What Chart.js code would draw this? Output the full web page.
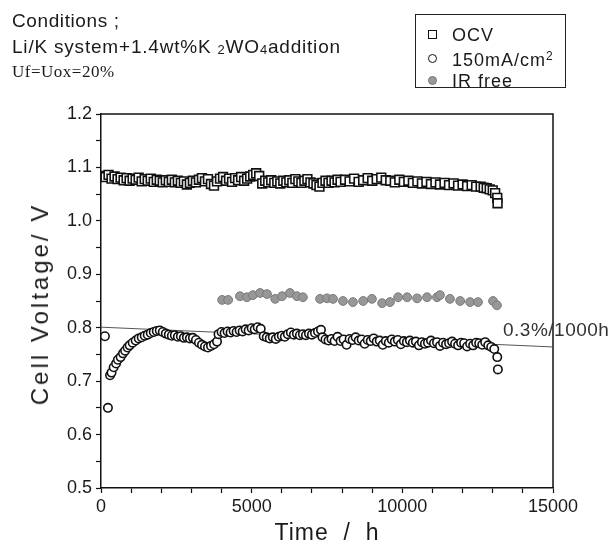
<!DOCTYPE html>
<html>
<head>
<meta charset="utf-8">
<script src="https://cdn.jsdelivr.net/npm/chart.js@4.4.1/dist/chart.umd.min.js"></script>
<style>
  body { margin: 0; background: #fff; }
  #wrap { position: relative; width: 613px; height: 547px; font-family: "Liberation Sans", Arial, sans-serif; color: #1a1a1a; }
  #chart { position: absolute; left: 0; top: 0; }
  .txt { position: absolute; white-space: pre; line-height: 1; }
  .t1 { left: 12px; top: 11px; font-size: 19px; letter-spacing: 0.6px; }
  .t2 { left: 12px; top: 37px; font-size: 19px; letter-spacing: 0.8px; }
  .t2 sub { font-size: 13px; vertical-align: -1px; }
  .t3 { left: 12px; top: 63px; font-size: 17px; letter-spacing: 0.5px; font-family: "Liberation Serif", "Times New Roman", serif; }
  #legend { position: absolute; left: 415px; top: 14px; width: 151px; height: 74px; border: 1.5px solid #222; box-sizing: border-box; }
  .row { position: absolute; left: 0; height: 20px; }
  .row span { position: absolute; left: 36px; top: 1px; font-size: 18px; letter-spacing: 1px; white-space: nowrap; }
  .row sup { font-size: 12px; vertical-align: 6px; }
  .mk { position: absolute; left: 12px; top: 6px; width: 9px; height: 9px; box-sizing: border-box; }
  .sq { border: 1.6px solid #111; }
  .ci { border: 1.6px solid #111; border-radius: 50%; }
  .ir { background: #999; border: 1px solid #777; border-radius: 50%; }
  .ytitle { left: 40px; top: 304px; font-size: 24px; letter-spacing: 3px; transform: translate(-50%, -50%) rotate(-90deg); }
  .xtitle { left: 327px; top: 532px; font-size: 23px; letter-spacing: 1px; transform: translate(-50%, -50%); }
  .note { left: 503px; top: 320px; font-size: 19px; color: #333; letter-spacing: 0.5px; }
</style>
</head>
<body>
<div id="wrap">
  <canvas id="chart" width="613" height="547"></canvas>
  <div class="txt t1">Conditions ;</div>
  <div class="txt t2">Li/K system+1.4wt%K <sub>2</sub>WO<sub>4</sub>addition</div>
  <div class="txt t3">Uf=Uox=20%</div>
  <div id="legend">
    <div class="row" style="top:9px"><div class="mk sq"></div><span>OCV</span></div>
    <div class="row" style="top:33px"><div class="mk ci"></div><span>150mA/cm<sup>2</sup></span></div>
    <div class="row" style="top:55px"><div class="mk ir"></div><span>IR free</span></div>
  </div>
  <div class="txt ytitle">Cell Voltage/ V</div>
  <div class="txt xtitle">Time  /  h</div>
  <div class="txt note">0.3%/1000h</div>
</div>
<script>
'use strict'

//tick labels
const xTickLabels = [ '0', '5000', '10000', '15000' ];
const yTickLabels = [ '0.5', '0.6', '0.7', '0.8', '0.9', '1.0', '1.1', '1.2' ];

//OCV
const ocvTime = [ 50, 150, 250, 350, 450, 550, 650, 750, 850, 950, 1050, 1150, 1250, 1350, 1450, 1550, 1650, 1750, 1850, 1950,
  2050, 2150, 2250, 2350, 2450, 2550, 2650, 2750, 2850, 2950, 3050, 3150, 3250, 3350, 3450, 3550, 3650, 3750, 3850, 3950,
  4050, 4150, 4250, 4350, 4450, 4550, 4650, 4750, 4850, 4950, 5050, 5150, 5250, 5350, 5450, 5550, 5650, 5750, 5850, 5950,
  6050, 6150, 6250, 6350, 6450, 6550, 6650, 6750, 6850, 6950, 7050, 7150, 7250, 7350, 7450, 7550, 7650, 7750, 7850, 7950,
  8100, 8250, 8400, 8550, 8700, 8850, 9000, 9150, 9300, 9450, 9600, 9750, 9900, 10050, 10200, 10350, 10500, 10650, 10800, 10950,
  11100, 11250, 11400, 11550, 11700, 11850, 12000, 12150, 12300, 12450, 12600, 12700, 12800, 12900, 13000, 13080, 13150, 13160 ];
const ocvVolt = [ 1.084, 1.082, 1.086, 1.079, 1.083, 1.078, 1.081, 1.076, 1.080, 1.075, 1.079, 1.077, 1.081, 1.074, 1.078, 1.075, 1.079, 1.073, 1.077, 1.075,
  1.072, 1.076, 1.073, 1.077, 1.072, 1.075, 1.071, 1.074, 1.068, 1.071, 1.075, 1.072, 1.077, 1.080, 1.074, 1.078, 1.069, 1.066, 1.074, 1.079,
  1.082, 1.075, 1.079, 1.073, 1.080, 1.076, 1.082, 1.075, 1.079, 1.083, 1.086, 1.089, 1.084, 1.070, 1.075, 1.072, 1.076, 1.071, 1.074, 1.070,
  1.075, 1.072, 1.076, 1.071, 1.078, 1.074, 1.071, 1.075, 1.078, 1.072, 1.070, 1.067, 1.064, 1.071, 1.075, 1.071, 1.075, 1.072, 1.077, 1.073,
  1.077, 1.074, 1.079, 1.073, 1.076, 1.080, 1.075, 1.078, 1.081, 1.076, 1.075, 1.072, 1.077, 1.073, 1.075, 1.071, 1.074, 1.070, 1.073, 1.069,
  1.072, 1.068, 1.071, 1.067, 1.070, 1.066, 1.068, 1.065, 1.067, 1.064, 1.064, 1.062, 1.061, 1.059, 1.057, 1.052, 1.043, 1.033 ];

//150mA/cm2
const ldTime = [ 130, 230, 300, 350, 420, 500, 560, 650, 730, 800, 880, 950, 1050, 1150, 1250, 1350, 1450, 1550, 1650, 1750,
  1850, 1950, 2050, 2150, 2250, 2350, 2450, 2550, 2650, 2750, 2850, 2950, 3050, 3150, 3250, 3350, 3450, 3550, 3650, 3750,
  3850, 3900, 4000, 4100, 4200, 4300, 4400, 4500, 4600, 4700, 4800, 4900, 5000, 5100, 5200, 5300, 5400, 5500, 5600, 5700,
  5800, 5900, 6000, 6100, 6200, 6300, 6400, 6500, 6600, 6700, 6800, 6900, 7000, 7100, 7200, 7300, 7350, 7450, 7550, 7650,
  7750, 7850, 7950, 8050, 8150, 8250, 8350, 8450, 8550, 8650, 8750, 8850, 8950, 9050, 9150, 9250, 9350, 9450, 9550, 9650,
  9750, 9850, 9950, 10050, 10150, 10250, 10350, 10450, 10550, 10650, 10750, 10850, 10950, 11050, 11150, 11250, 11350, 11450, 11550, 11650,
  11750, 11850, 11950, 12050, 12150, 12250, 12350, 12450, 12550, 12650, 12750, 12850, 12950, 13050, 13150, 13170 ];
const ldVolt = [ 0.784, 0.650, 0.711, 0.716, 0.726, 0.733, 0.740, 0.745, 0.752, 0.757, 0.763, 0.767, 0.772, 0.776, 0.780, 0.782, 0.785, 0.787, 0.790, 0.792,
  0.794, 0.795, 0.792, 0.789, 0.787, 0.785, 0.786, 0.783, 0.784, 0.781, 0.782, 0.780, 0.781, 0.777, 0.772, 0.768, 0.765, 0.763, 0.766, 0.769,
  0.774, 0.788, 0.792, 0.790, 0.793, 0.791, 0.794, 0.792, 0.795, 0.793, 0.797, 0.795, 0.799, 0.797, 0.801, 0.798, 0.784, 0.782, 0.780, 0.782,
  0.779, 0.783, 0.785, 0.783, 0.788, 0.791, 0.787, 0.789, 0.786, 0.788, 0.786, 0.789, 0.787, 0.790, 0.793, 0.796, 0.782, 0.778, 0.776, 0.779,
  0.775, 0.783, 0.775, 0.778, 0.768, 0.779, 0.777, 0.782, 0.776, 0.778, 0.770, 0.777, 0.775, 0.780, 0.774, 0.776, 0.768, 0.775, 0.772, 0.778,
  0.774, 0.777, 0.769, 0.775, 0.773, 0.776, 0.772, 0.774, 0.767, 0.773, 0.770, 0.772, 0.776, 0.771, 0.773, 0.766, 0.772, 0.769, 0.771, 0.774,
  0.770, 0.767, 0.772, 0.771, 0.765, 0.770, 0.767, 0.772, 0.771, 0.768, 0.773, 0.767, 0.764, 0.760, 0.745, 0.722 ];

//IR free
const irTime = [ 4020, 4220, 4610, 4840, 5040, 5280, 5510, 5780, 6010, 6270, 6500, 6700, 7270, 7500, 7700, 8030,
  8360, 8700, 8990, 9330, 9590, 9860, 10160, 10490, 10820, 11150, 11250, 11580, 11920, 12250, 12510, 13010, 13140 ];
const irVolt = [ 0.852, 0.852, 0.859, 0.857, 0.861, 0.865, 0.863, 0.854, 0.859, 0.865, 0.859, 0.857, 0.854, 0.855, 0.854, 0.850,
  0.848, 0.850, 0.854, 0.846, 0.848, 0.857, 0.857, 0.855, 0.857, 0.857, 0.861, 0.854, 0.850, 0.848, 0.848, 0.850, 0.842 ];

//linea de tendencia 0.3%/1000h
const trendTime = [ 0, 15000 ];
const trendVolt = [ 0.801, 0.764 ];

function toPoints( xs, ys )
{
  return xs.map( ( x, i ) => ( { x: x, y: ys[ i ] } ) );
}

//marco superior y derecho
const boxPlugin =
{
  id: 'box',
  beforeDatasetsDraw( chart )
  {
    const a = chart.chartArea;
    const ctx = chart.ctx;
    ctx.save( );
    ctx.strokeStyle = '#111';
    ctx.lineWidth = 1.5;
    ctx.beginPath( );
    ctx.moveTo( a.left, a.top );
    ctx.lineTo( a.right, a.top );
    ctx.lineTo( a.right, a.bottom );
    ctx.stroke( );
    ctx.restore( );
  }
};

const tickFont = { family: '"Liberation Sans", Arial, sans-serif', size: 18 };

new Chart( document.getElementById( 'chart' ),
{
  type: 'scatter',
  data:
  {
    datasets:
    [
      {
        label: 'OCV',
        data: toPoints( ocvTime, ocvVolt ),
        pointStyle: 'rect',
        pointRadius: 6.2,
        borderColor: '#111',
        backgroundColor: '#fff',
        borderWidth: 1.6,
        order: 1
      },
      {
        label: '150mA/cm2',
        data: toPoints( ldTime, ldVolt ),
        pointStyle: 'circle',
        pointRadius: 4.2,
        borderColor: '#111',
        backgroundColor: '#fff',
        borderWidth: 1.6,
        order: 2
      },
      {
        label: 'IR free',
        data: toPoints( irTime, irVolt ),
        pointStyle: 'circle',
        pointRadius: 4.4,
        borderColor: '#7a7a7a',
        backgroundColor: '#979797',
        borderWidth: 1,
        order: 3
      },
      {
        label: 'trend',
        data: toPoints( trendTime, trendVolt ),
        showLine: true,
        pointRadius: 0,
        borderColor: '#555',
        borderWidth: 1,
        order: 4
      }
    ]
  },
  options:
  {
    responsive: false,
    animation: false,
    layout: { padding: { left: 0, top: 114, right: 60, bottom: 0 } },
    plugins: { legend: { display: false }, tooltip: { enabled: false } },
    scales:
    {
      x:
      {
        type: 'linear',
        min: 0,
        max: 15000,
        afterBuildTicks: scale =>
        {
          const t = [ ];
          for ( let v = 0; v <= 15000; v += 1000 ) t.push( { value: v } );
          scale.ticks = t;
        },
        afterFit: scale => { scale.height = 59; },
        ticks:
        {
          autoSkip: false,
          maxRotation: 0,
          padding: 3,
          color: '#1a1a1a',
          font: tickFont,
          callback: v => ( v % 5000 === 0 ? xTickLabels[ v / 5000 ] : '' )
        },
        grid: { drawOnChartArea: false, drawTicks: true, tickLength: 5, tickColor: '#111', tickWidth: 1.2 },
        border: { display: true, color: '#111', width: 1.5 }
      },
      y:
      {
        type: 'linear',
        min: 0.5,
        max: 1.2,
        afterBuildTicks: scale =>
        {
          const t = [ ];
          for ( let i = 0; i <= 14; i++ ) t.push( { value: Math.round( ( 0.5 + i * 0.05 ) * 100 ) / 100 } );
          scale.ticks = t;
        },
        afterFit: scale => { scale.width = 101; },
        ticks:
        {
          autoSkip: false,
          padding: 4,
          color: '#1a1a1a',
          font: tickFont,
          callback: ( v, i ) => ( i % 2 === 0 ? yTickLabels[ i / 2 ] : '' )
        },
        grid: { drawOnChartArea: false, drawTicks: true, tickLength: 5, tickColor: '#111', tickWidth: 1.2 },
        border: { display: true, color: '#111', width: 1.5 }
      }
    }
  },
  plugins: [ boxPlugin ]
});
</script>
</body>
</html>
